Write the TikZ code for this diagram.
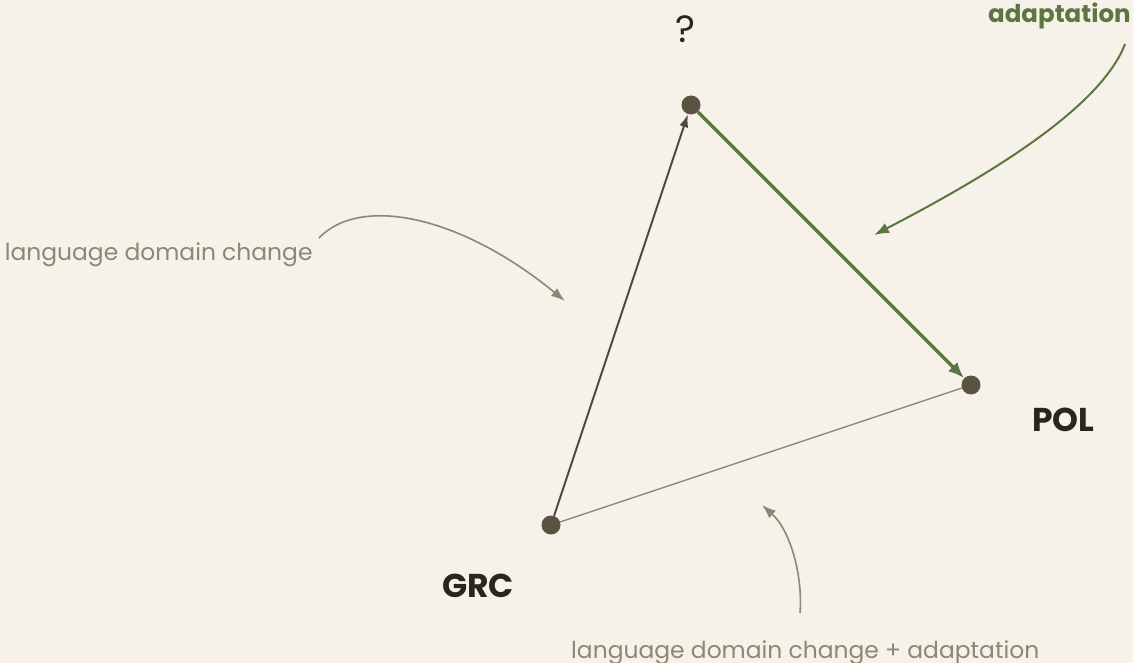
\documentclass[tikz,border=0pt]{standalone}
\usepackage{fontspec}
\setmainfont{Poppins}
\usetikzlibrary{arrows.meta}
\definecolor{bg}{HTML}{F6F2E9}
\definecolor{dotc}{HTML}{5A5342}
\definecolor{grn}{HTML}{5B7640}
\definecolor{gry}{HTML}{8C8873}
\definecolor{ink}{HTML}{29261E}
\definecolor{edgec}{HTML}{514A3A}
\begin{document}
\begin{tikzpicture}[x=1pt,y=-1pt,
  dot/.style={circle,fill=dotc,minimum size=19pt,inner sep=0pt},
  lab/.style={inner sep=0pt,anchor=base west,text=ink,font=\fontsize{33}{38}\selectfont\bfseries},
  note/.style={inner sep=0pt,anchor=base west,text=gry,font=\fontsize{23.4}{28}\selectfont},
  ann/.style={draw=gry,line width=1.6pt,-{Latex[length=14pt,width=10pt]}},
]
\fill[bg] (0,0) rectangle (1133,663);
\useasboundingbox (0,0) rectangle (1133,663);
% vertices
\node[dot] (q) at (691,105) {};
\node[dot] (pol) at (971,385) {};
\node[dot] (grc) at (551,525) {};
% edges
\draw[gry, line width=1.3pt] (grc) -- (pol);
\draw[edgec, line width=2pt, -{Latex[length=13pt,width=9pt]}] (grc) -- (q);
\draw[grn, line width=3.5pt, -{Latex[length=16pt,width=13pt]}] (q) -- (pol);
% labels
\node[inner sep=0pt,anchor=base west,text=ink,font=\fontsize{38}{44}\selectfont] (tq) at (675,43) {?};
\node[lab] (tpol) at (1032,431) {POL};
\node[lab] (tgrc) at (442,597) {GRC};
\node[note] (tl) at (4.6,261) {language domain change};
\node[note] (tb) at (571,658) {language domain change + adaptation};
\node[inner sep=0pt,anchor=base west,text=grn,font=\fontsize{24.5}{30}\selectfont\bfseries] (ta) at (988,23) {adaptation};
% annotation arrows
\coordinate (l0) at (319,238);
\coordinate (l1) at (565,301);
\draw[ann] (l0) .. controls (360,195) and (460,215) .. (l1);
\coordinate (a0) at (1125,44);
\coordinate (a1) at (874,235);
\draw[grn, line width=2pt, -{Latex[length=15pt,width=11pt]}] (a0) .. controls (1100,110) and (980,180) .. (a1);
\coordinate (b0) at (800,613);
\coordinate (b1) at (762,505);
\draw[ann] (b0) .. controls (803,575) and (790,530) .. (b1);
\end{tikzpicture}
\end{document}
